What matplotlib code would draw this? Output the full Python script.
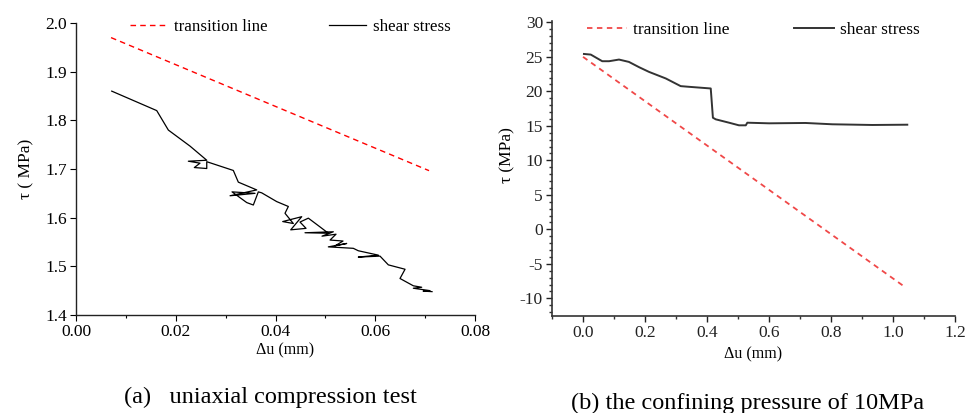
import matplotlib
matplotlib.use("Agg")
import matplotlib.pyplot as plt
from matplotlib.ticker import MultipleLocator, FormatStrFormatter

plt.rcParams['font.family'] = ['Liberation Serif', 'DejaVu Serif']
plt.rcParams['axes.unicode_minus'] = False

# ---------------- data: (a) uniaxial compression test ----------------
a_trans_du = [0.00702, 0.07078]
a_trans_tau = [1.970, 1.6966]

a_shear_du = [0.00716, 0.01618, 0.01851, 0.02286, 0.02621, 0.02252, 0.02486, 0.02372,
              0.02621, 0.02621, 0.03154, 0.03254, 0.03623, 0.03088, 0.03589, 0.03128,
              0.03423, 0.03555, 0.03655, 0.03723, 0.04024, 0.04257, 0.04190, 0.04357,
              0.04144, 0.04525, 0.04305, 0.04612, 0.04491, 0.04658, 0.04892, 0.05059,
              0.04591, 0.05159, 0.04932, 0.05213, 0.05093, 0.05353, 0.05193, 0.05427,
              0.05059, 0.05560, 0.05660, 0.06061, 0.05660, 0.06095, 0.06262, 0.06597,
              0.06496, 0.06763, 0.06931, 0.06763, 0.07098, 0.06960, 0.07138]
a_shear_tau = [1.860, 1.820, 1.780, 1.747, 1.718, 1.716, 1.712, 1.703,
               1.701, 1.715, 1.697, 1.673, 1.657, 1.645, 1.650, 1.653,
               1.631, 1.626, 1.653, 1.651, 1.633, 1.623, 1.609, 1.588,
               1.592, 1.602, 1.575, 1.578, 1.591, 1.599, 1.581, 1.568,
               1.569, 1.571, 1.562, 1.566, 1.554, 1.552, 1.542, 1.547,
               1.540, 1.537, 1.532, 1.523, 1.519, 1.521, 1.503, 1.494,
               1.475, 1.460, 1.457, 1.455, 1.450, 1.449, 1.448]

# ---------------- data: (b) confining pressure 10 MPa ----------------
b_trans_du = [0.0, 1.04]
b_trans_tau = [25.0, -8.4]

b_shear_du = [0.003, 0.025, 0.062, 0.084, 0.116, 0.148, 0.181, 0.213, 0.267, 0.315,
              0.342, 0.412, 0.419, 0.428, 0.471, 0.503, 0.525, 0.530, 0.600, 0.718,
              0.804, 0.933, 1.046]
b_shear_tau = [25.42, 25.33, 24.37, 24.37, 24.61, 24.27, 23.50, 22.82, 21.87, 20.76,
               20.66, 20.42, 16.18, 15.95, 15.46, 15.08, 15.08, 15.46, 15.37, 15.42,
               15.23, 15.13, 15.17]

labels = ["transition line", "shear stress"]
captions = ["(a)   uniaxial compression test", "(b) the confining pressure of 10MPa"]

fig = plt.figure(figsize=(9.76, 4.13), dpi=100)

# ---------- panel a ----------
ax1 = fig.add_axes([0.0779, 0.2373, 0.4088, 0.7070])
ax1.plot(a_trans_du, a_trans_tau, color='#ff0000', lw=1.0, dashes=(4, 3), label=labels[0])
ax1.plot(a_shear_du, a_shear_tau, color='black', lw=0.9, label=labels[1])
ax1.set_xlim(0, 0.08)
ax1.set_ylim(1.4, 2.0)
ax1.xaxis.set_major_locator(MultipleLocator(0.02))
ax1.xaxis.set_minor_locator(MultipleLocator(0.01))
ax1.xaxis.set_major_formatter(FormatStrFormatter('%.2f'))
ax1.yaxis.set_major_locator(MultipleLocator(0.1))
ax1.yaxis.set_major_formatter(FormatStrFormatter('%.1f'))
for s in ['top', 'right']:
    ax1.spines[s].set_visible(False)
for s in ['left', 'bottom']:
    ax1.spines[s].set_linewidth(1.0)
    ax1.spines[s].set_color('#222222')
ax1.tick_params(which='major', direction='out', length=4.5, width=0.8, labelsize=12.5, pad=2)
ax1.tick_params(which='minor', direction='out', length=2.5, width=0.8)
ax1.set_xlabel("Δu (mm)", fontsize=11.5, labelpad=4)
ax1.xaxis.set_label_coords(0.524, -0.095)
ax1.set_ylabel("τ ( MPa)", fontsize=12.5, labelpad=8)
ax1.legend(loc='center left', bbox_to_anchor=(0.135, 0.986), ncol=2, frameon=False,
           fontsize=12.2, handlelength=2.2, handletextpad=0.4, columnspacing=3.6,
           borderpad=0, borderaxespad=0)

# ---------- panel b ----------
ax2 = fig.add_axes([0.5656, 0.2349, 0.4129, 0.7143])
ax2.plot(b_trans_du, b_trans_tau, color='#f04848', lw=1.3, dashes=(3, 2.5), label=labels[0])
ax2.plot(b_shear_du, b_shear_tau, color='#333333', lw=1.4, label=labels[1])
ax2.set_xlim(-0.1, 1.2)
ax2.set_ylim(-12.55, 30.2)
ax2.xaxis.set_major_locator(MultipleLocator(0.2))
ax2.xaxis.set_minor_locator(MultipleLocator(0.1))
ax2.xaxis.set_major_formatter(FormatStrFormatter('%.1f'))
ax2.yaxis.set_major_locator(MultipleLocator(5))
ax2.yaxis.set_minor_locator(MultipleLocator(1))
ax2.yaxis.set_major_formatter(FormatStrFormatter('%d'))
for s in ['top', 'right']:
    ax2.spines[s].set_visible(False)
for s in ['left', 'bottom']:
    ax2.spines[s].set_linewidth(1.2)
    ax2.spines[s].set_color('#333333')
ax2.tick_params(which='major', direction='out', length=4.5, width=1.0, labelsize=12.5,
                pad=2, colors='#222222')
ax2.tick_params(which='minor', direction='out', length=2.5, width=1.0, colors='#333333')
ax2.set_xlabel("Δu (mm)", fontsize=11.5, labelpad=4)
ax2.set_ylabel("τ (MPa)", fontsize=12.5)
ax2.yaxis.set_label_coords(-0.092, 0.546)
ax2.legend(loc='center left', bbox_to_anchor=(0.087, 0.97), ncol=2, frameon=False,
           fontsize=12.5, handlelength=2.3, handletextpad=0.35, columnspacing=3.7,
           borderpad=0, borderaxespad=0)

fig.text(0.277, 0.038, captions[0], fontsize=17.5, ha='center', va='center')
fig.text(0.766, 0.024, captions[1], fontsize=17.5, ha='center', va='center')

fig.savefig("out.png", dpi=100)
